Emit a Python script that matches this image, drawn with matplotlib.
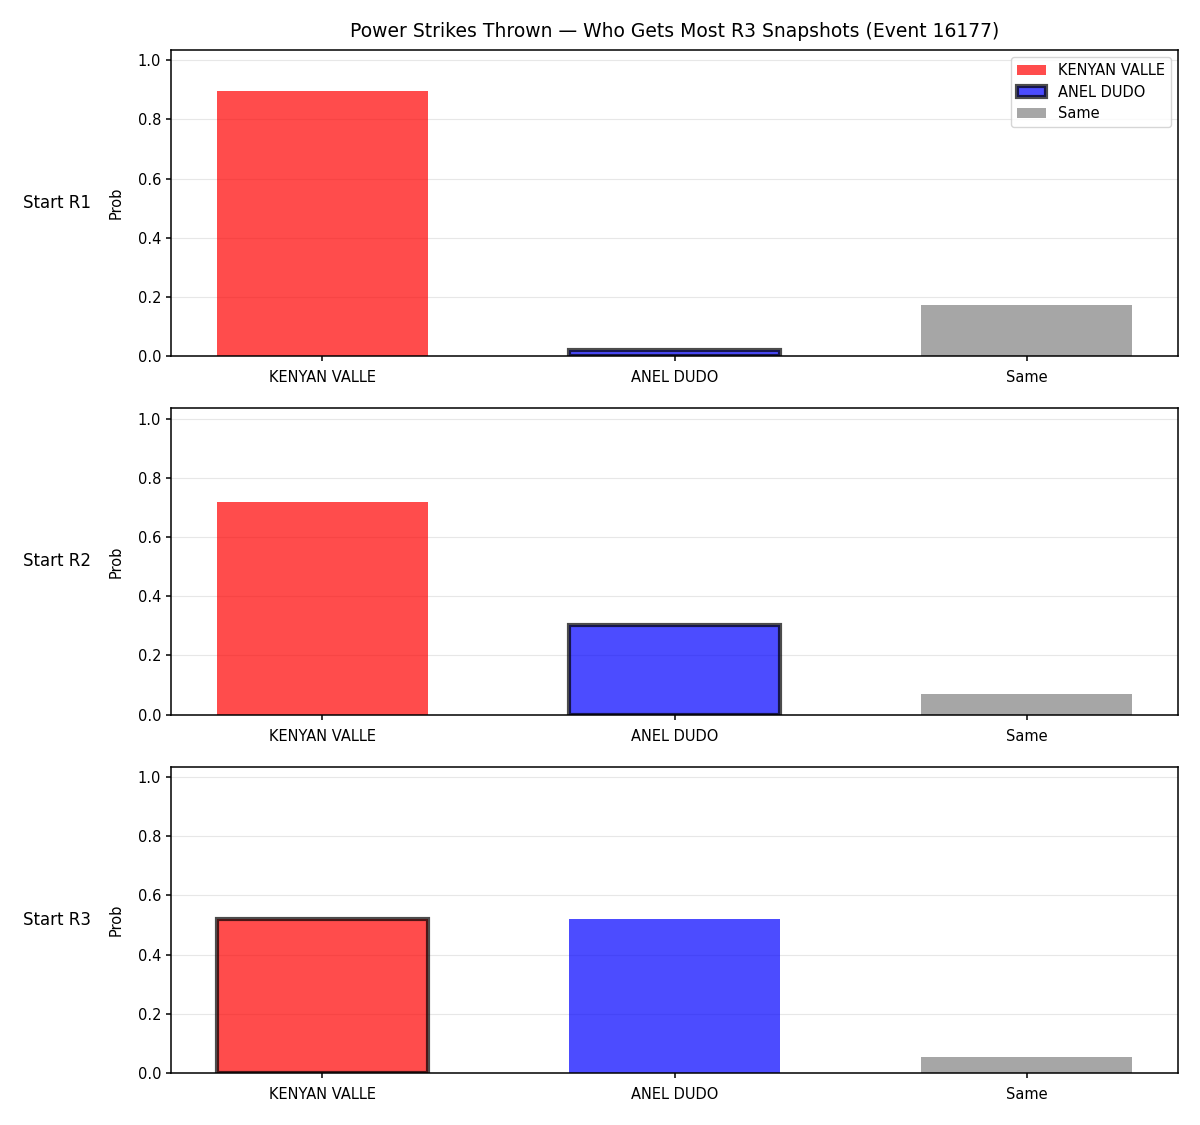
import matplotlib
matplotlib.use("Agg")
import matplotlib.pyplot as plt

# Data
categories = ["KENYAN VALLE", "ANEL DUDO", "Same"]
rows = ["Start R1", "Start R2", "Start R3"]
probs = [
    [0.895, 0.020, 0.174],
    [0.720, 0.304, 0.071],
    [0.520, 0.520, 0.055],
]
# which bar gets the dark outline in each row
highlight = [1, 1, 0]
colors = ["red", "blue", "gray"]

plt.rcParams["axes.linewidth"] = 1.1
plt.rcParams["xtick.major.width"] = 1.1
plt.rcParams["ytick.major.width"] = 1.1

fig, axes = plt.subplots(3, 1, figsize=(12, 11.25), dpi=100)

for i, ax in enumerate(axes):
    bars = ax.bar(categories, probs[i], width=0.6, color=colors, alpha=0.7)
    for j, b in enumerate(bars):
        b.set_label(categories[j])
        if j == highlight[i]:
            b.set_edgecolor("black")
            b.set_linewidth(3)
    ax.set_ylim(0, 1.035)
    ax.set_ylabel("Prob", fontsize=10.5, labelpad=10)
    ax.tick_params(axis="x", labelsize=10.5, pad=6.5)
    ax.tick_params(axis="y", labelsize=10.5)
    ax.grid(axis="y", alpha=0.3)
    ax.set_axisbelow(True)
    ax.text(-0.0795, 0.5, rows[i], transform=ax.transAxes, ha="right", va="center", fontsize=12)

axes[0].set_title("Power Strikes Thrown \u2014 Who Gets Most R3 Snapshots (Event 16177)", fontsize=13.5, pad=9)
axes[0].legend(loc="upper right", fontsize=10.5, labelspacing=0.45)

plt.subplots_adjust(left=0.1425, right=0.9817, top=0.9556, bottom=0.0462, hspace=0.17)
plt.savefig("out.png", dpi=100)
